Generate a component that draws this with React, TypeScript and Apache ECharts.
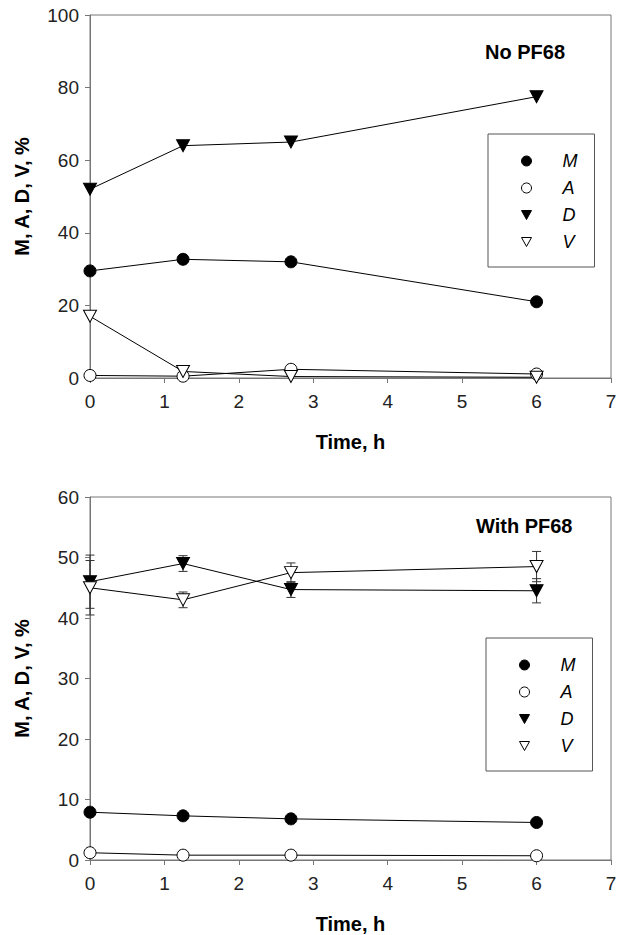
import React, { useEffect, useRef } from "react";
import * as echarts from "echarts";

const timePoints = [0, 1.25, 2.7, 6];
const xTicks = [0, 1, 2, 3, 4, 5, 6, 7];

// Top panel: No PF68
const topM = [29.5, 32.7, 32, 21];
const topA = [0.7, 0.5, 2.4, 1.1];
const topD = [52, 64, 65, 77.5];
const topV = [17, 1.8, 0.4, 0.2];

// Bottom panel: With PF68
const botM = [7.9, 7.3, 6.8, 6.2];
const botA = [1.2, 0.8, 0.8, 0.7];
const botD = [46, 49, 44.7, 44.5];
const botV = [45, 43, 47.5, 48.5];
const botErrD = [4.4, 1.3, 1.3, 2.0];
const botErrV = [4.5, 1.3, 1.6, 2.5];

const seriesNames = ["M", "A", "D", "V"];
const panelTitles = ["No PF68", "With PF68"];

const FONT = "Liberation Sans, Arial, sans-serif";
const AXIS_COLOR = "#777";
const DOWN_TRI = "path://M0,0L10,0L5,9Z";

const styleFor = (name: string) => {
  const filled = name === "M" || name === "D";
  const tri = name === "D" || name === "V";
  return { filled, tri };
};

const zip = (xs: number[], ys: number[]) => xs.map((x, i) => [x, ys[i]]);

function lineSeries(name: string, vals: number[], idx: number) {
  const { filled, tri } = styleFor(name);
  return {
    type: "line",
    name,
    xAxisIndex: idx,
    yAxisIndex: idx,
    data: zip(timePoints, vals),
    symbol: tri ? "triangle" : "circle",
    symbolSize: tri ? [13, 12] : 12,
    symbolRotate: tri ? 180 : 0,
    showAllSymbol: true,
    z: 3,
    lineStyle: { color: "#000", width: 1 },
    itemStyle: {
      color: filled ? "#000" : "#fff",
      borderColor: "#000",
      borderWidth: 1,
    },
    emphasis: { disabled: true },
  };
}

function errorSeries(vals: number[], errs: number[], idx: number) {
  return {
    type: "custom",
    xAxisIndex: idx,
    yAxisIndex: idx,
    z: 1,
    silent: true,
    data: timePoints.map((t, i) => [t, vals[i], errs[i]]),
    encode: { x: 0, y: 1 },
    renderItem: (params: any, api: any) => {
      const x = api.value(0);
      const y = api.value(1);
      const e = api.value(2);
      const lo = api.coord([x, y - e]);
      const hi = api.coord([x, y + e]);
      const w = 4.5;
      const st = { stroke: "#333", lineWidth: 1 };
      return {
        type: "group",
        children: [
          { type: "line", shape: { x1: lo[0], y1: lo[1], x2: hi[0], y2: hi[1] }, style: st },
          { type: "line", shape: { x1: lo[0] - w, y1: lo[1], x2: lo[0] + w, y2: lo[1] }, style: st },
          { type: "line", shape: { x1: hi[0] - w, y1: hi[1], x2: hi[0] + w, y2: hi[1] }, style: st },
        ],
      };
    },
  };
}

function legendFor(left: number, top: number) {
  return {
    orient: "vertical",
    left,
    top,
    selectedMode: false,
    borderColor: "#555",
    borderWidth: 1,
    padding: [17, 17, 15, 33],
    itemWidth: 10,
    itemHeight: 10,
    itemGap: 7,
    textStyle: {
      fontFamily: FONT,
      fontStyle: "italic",
      fontSize: 18,
      lineHeight: 20,
      color: "#000",
      padding: [0, 0, 0, 26],
    },
    data: seriesNames.map((n) => {
      const { filled, tri } = styleFor(n);
      return {
        name: n,
        icon: tri ? DOWN_TRI : "circle",
        itemStyle: {
          color: filled ? "#000" : "#fff",
          borderColor: "#000",
          borderWidth: 1,
        },
      };
    }),
  };
}

function xAxisFor(idx: number) {
  return {
    type: "value",
    gridIndex: idx,
    min: xTicks[0],
    max: xTicks[xTicks.length - 1],
    interval: 1,
    name: "Time, h",
    nameLocation: "middle",
    nameGap: 54,
    nameTextStyle: { fontFamily: FONT, fontWeight: "bold", fontSize: 20, color: "#000" },
    axisLine: { show: true, onZero: false, lineStyle: { color: AXIS_COLOR, width: 1 } },
    axisTick: { show: true, inside: false, length: 5, lineStyle: { color: AXIS_COLOR } },
    axisLabel: { margin: 14, fontFamily: FONT, fontSize: 19, color: "#222" },
    splitLine: { show: false },
  };
}

function yAxisFor(idx: number, max: number, interval: number) {
  return {
    type: "value",
    gridIndex: idx,
    min: 0,
    max,
    interval,
    name: "M, A, D, V, %",
    nameLocation: "middle",
    nameGap: 58,
    nameTextStyle: { fontFamily: FONT, fontWeight: "bold", fontSize: 20, color: "#000" },
    axisLine: { show: true, onZero: false, lineStyle: { color: AXIS_COLOR, width: 1 } },
    axisTick: { show: true, inside: false, length: 5, lineStyle: { color: AXIS_COLOR } },
    axisLabel: { margin: 11, fontFamily: FONT, fontSize: 19, color: "#222" },
    splitLine: { show: false },
  };
}

export default function App() {
  const ref = useRef<HTMLDivElement>(null);
  useEffect(() => {
    if (!ref.current) return;
    const chart = echarts.init(ref.current, null, { renderer: "svg" });
    const topVals = [topM, topA, topD, topV];
    const botVals = [botM, botA, botD, botV];
    chart.setOption({
      animation: false,
      backgroundColor: "#fff",
      textStyle: { fontFamily: FONT },
      title: [
        {
          text: panelTitles[0],
          left: 485,
          top: 42,
          padding: 0,
          textStyle: { fontFamily: FONT, fontWeight: "bold", fontSize: 20, color: "#000" },
        },
        {
          text: panelTitles[1],
          left: 476,
          top: 516,
          padding: 0,
          textStyle: { fontFamily: FONT, fontWeight: "bold", fontSize: 20, color: "#000" },
        },
      ],
      legend: [legendFor(488, 134), legendFor(486, 638)],
      grid: [
        { left: 90, top: 15, width: 521, height: 363, show: true, borderColor: AXIS_COLOR, borderWidth: 1, backgroundColor: "transparent" },
        { left: 90, top: 497, width: 521, height: 365, show: true, borderColor: AXIS_COLOR, borderWidth: 1, backgroundColor: "transparent" },
      ],
      xAxis: [xAxisFor(0), xAxisFor(1)],
      yAxis: [yAxisFor(0, 100, 20), yAxisFor(1, 60, 10)],
      series: [
        errorSeries(botD, botErrD, 1),
        errorSeries(botV, botErrV, 1),
        ...seriesNames.map((n, i) => lineSeries(n, topVals[i], 0)),
        ...seriesNames.map((n, i) => lineSeries(n, botVals[i], 1)),
      ],
    });
    return () => chart.dispose();
  }, []);
  return (
    <div
      ref={ref}
      style={{ position: "fixed", left: 0, top: 0, width: 624, height: 935 }}
    />
  );
}
